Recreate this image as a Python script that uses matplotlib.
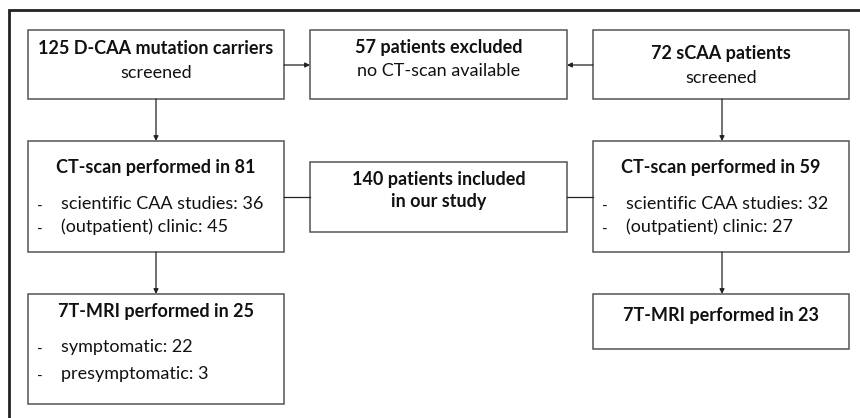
import matplotlib.pyplot as plt
from matplotlib.patches import Rectangle

# box texts (title, subtitle lines, bullet lines)
dcaa_screened = ['125 D-CAA mutation carriers', 'screened']
excluded = ['57 patients excluded', 'no CT-scan available']
scaa_screened = ['72 sCAA patients', 'screened']
ct_dcaa_title = 'CT-scan performed in 81'
ct_dcaa_items = ['scientific CAA studies: 36', '(outpatient) clinic: 45']
included = ['140 patients included', 'in our study']
ct_scaa_title = 'CT-scan performed in 59'
ct_scaa_items = ['scientific CAA studies: 32', '(outpatient) clinic: 27']
mri_dcaa_title = '7T-MRI performed in 25'
mri_dcaa_items = ['symptomatic: 22', 'presymptomatic: 3']
mri_scaa_title = '7T-MRI performed in 23'

plt.rcParams['font.family'] = ['Lato', 'DejaVu Sans']
FS = 13
BOX_COL = '#555555'
TXT_COL = '#111111'

fig = plt.figure(figsize=(8.6, 4.18), dpi=100)
ax = fig.add_axes([0, 0, 1, 1])
ax.set_xlim(0, 860)
ax.set_ylim(418, 0)
ax.axis('off')

# outer frame: only top and left edges
ax.plot([9, 9, 860], [418, 10, 10], color='#222222', lw=2, solid_joinstyle='miter')


def box(x0, y0, x1, y1):
    ax.add_patch(Rectangle((x0, y0), x1 - x0, y1 - y0, fill=False,
                           edgecolor=BOX_COL, lw=1.1))


def text(x, y, s, bold=False, ha='center'):
    ax.text(x, y, s, ha=ha, va='center', fontsize=FS, color=TXT_COL,
            fontweight='bold' if bold else 'normal')


def bullets(xd, xt, ys, items):
    for y, s in zip(ys, items):
        ax.text(xd, y + 3, '-', ha='left', va='center', fontsize=FS - 2, color=TXT_COL)
        text(xt, y, s, ha='left')


def arrow(x0, y0, x1, y1, head=True):
    if head:
        ax.annotate('', xy=(x1, y1), xytext=(x0, y0),
                    arrowprops=dict(arrowstyle='-|>', color='#222222', lw=0.9,
                                    mutation_scale=7, shrinkA=0, shrinkB=0))
    else:
        ax.plot([x0, x1], [y0, y1], color='#222222', lw=0.9)


L0, L1 = 28, 284
M0, M1 = 310, 567
R0, R1 = 593, 849
LC, MC, RC = (L0 + L1) / 2, (M0 + M1) / 2, (R0 + R1) / 2

# top row
box(L0, 30, L1, 99)
text(LC, 49, dcaa_screened[0], bold=True)
text(LC, 73, dcaa_screened[1])
box(M0, 30, M1, 99)
text(MC, 48, excluded[0], bold=True)
text(MC, 71, excluded[1])
box(R0, 30, R1, 99)
text(RC, 53, scaa_screened[0], bold=True)
text(RC, 78, scaa_screened[1])

# middle row
box(L0, 141, L1, 252)
text(LC, 168, ct_dcaa_title, bold=True)
bullets(37, 61, [204, 227], ct_dcaa_items)
box(M0, 162, M1, 232)
text(MC, 180, included[0], bold=True)
text(MC, 202, included[1], bold=True)
box(R0, 141, R1, 252)
text(RC, 168, ct_scaa_title, bold=True)
bullets(602, 626, [204, 227], ct_scaa_items)

# bottom row
box(L0, 294, L1, 404)
text(LC, 311, mri_dcaa_title, bold=True)
bullets(37, 61, [347, 374], mri_dcaa_items)
box(R0, 294, R1, 349)
text(RC, 316, mri_scaa_title, bold=True)

# connectors
arrow(L1, 65, M0, 65)
arrow(R0, 65, M1, 65)
arrow(156, 99, 156, 141)
arrow(722, 99, 722, 141)
arrow(156, 252, 156, 294)
arrow(722, 252, 722, 294)
arrow(L1, 197, M0, 197, head=False)
arrow(M1, 197, R0, 197, head=False)

fig.savefig('out.png', dpi=100)
